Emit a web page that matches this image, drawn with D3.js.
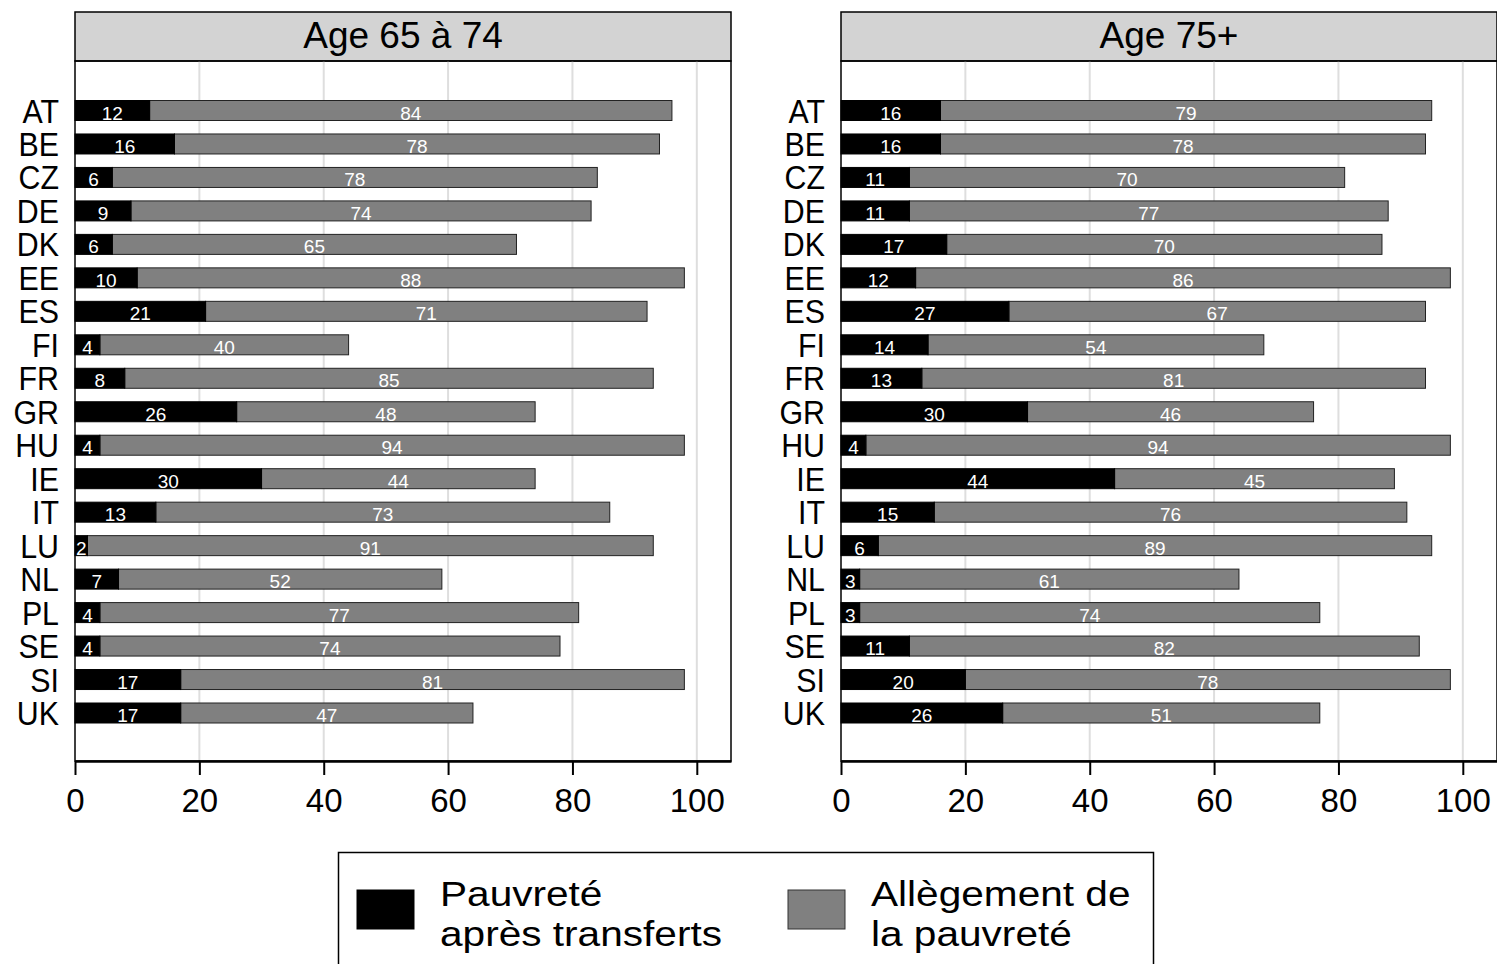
<html>
<head>
<script src="https://d3js.org/d3.v7.min.js"></script>
<style>
  body { margin: 0; background: #fff; }
  text { font-family: "Liberation Sans", Arial, Helvetica, sans-serif; }
</style>
</head>
<body>
<svg id="chart" width="1497" height="964"></svg>
<script>
// data
const countries = ["AT","BE","CZ","DE","DK","EE","ES","FI","FR","GR","HU","IE","IT","LU","NL","PL","SE","SI","UK"];
const panels = ["Age 65 à 74", "Age 75+"];
// poverty after transfers (black)
const pov6574 = [12,16,6,9,6,10,21,4,8,26,4,30,13,2,7,4,4,17,17];
const pov75   = [16,16,11,11,17,12,27,14,13,30,4,44,15,6,3,3,11,20,26];
// poverty relief (grey)
const rel6574 = [84,78,78,74,65,88,71,40,85,48,94,44,73,91,52,77,74,81,47];
const rel75   = [79,78,70,77,70,86,67,54,81,46,94,45,76,89,61,74,82,78,51];
const xTicks = [0,20,40,60,80,100];
const legendLabels = [["Pauvreté","après transferts"],["Allègement de","la pauvreté"]];
const colors = ["#000000","#808080"];

const svg = d3.select("#chart");

const panelLeft = [75, 841];
const panelW = 656;
const plotTop = 61, plotBottom = 761, stripTop = 12;

const series = [[pov6574, rel6574], [pov75, rel75]];

panels.forEach((title, p) => {
  const g = svg.append("g").attr("transform", `translate(${panelLeft[p]},0)`);
  const x = d3.scaleLinear().domain([0, 105.5]).range([0, panelW]);
  const y = d3.scalePoint().domain(countries).range([110.5, 713]);
  const bh = 20;

  // strip
  g.append("rect").attr("x", 0).attr("y", stripTop).attr("width", panelW).attr("height", plotTop - stripTop)
    .attr("fill", "#d3d3d3").attr("stroke", "#000").attr("stroke-width", 1.5);
  g.append("text").attr("x", panelW / 2).attr("y", 48).attr("text-anchor", "middle")
    .attr("font-size", 37).text(title);

  // grid
  g.selectAll("line.grid").data(xTicks.filter(d => d > 0)).join("line")
    .attr("class", "grid")
    .attr("x1", d => x(d)).attr("x2", d => x(d))
    .attr("y1", plotTop).attr("y2", plotBottom)
    .attr("stroke", "#dedede").attr("stroke-width", 2);

  const [pov, rel] = series[p];
  const rows = countries.map((c, i) => ({ c, a: pov[i], b: rel[i] }));

  // grey part then black part
  g.selectAll("rect.rel").data(rows).join("rect")
    .attr("class", "rel")
    .attr("x", d => x(d.a)).attr("width", d => x(d.a + d.b) - x(d.a))
    .attr("y", d => y(d.c) - bh / 2).attr("height", bh)
    .attr("fill", colors[1]).attr("stroke", "#222").attr("stroke-width", 1);
  g.selectAll("rect.pov").data(rows).join("rect")
    .attr("class", "pov")
    .attr("x", x(0)).attr("width", d => x(d.a) - x(0))
    .attr("y", d => y(d.c) - bh / 2).attr("height", bh)
    .attr("fill", colors[0]).attr("stroke", "#000").attr("stroke-width", 1);

  g.selectAll("text.lpov").data(rows).join("text")
    .attr("class", "lpov")
    .attr("x", d => x(d.a / 2)).attr("y", d => y(d.c) + 9)
    .attr("text-anchor", "middle")
    .attr("fill", "#fff").attr("font-size", 19).text(d => d.a);
  g.selectAll("text.lrel").data(rows).join("text")
    .attr("class", "lrel")
    .attr("x", d => x(d.a + d.b / 2)).attr("y", d => y(d.c) + 9)
    .attr("text-anchor", "middle")
    .attr("fill", "#fff").attr("font-size", 19).text(d => d.b);

  // panel border
  g.append("rect").attr("x", 0).attr("y", plotTop).attr("width", panelW).attr("height", plotBottom - plotTop)
    .attr("fill", "none").attr("stroke", "#000").attr("stroke-width", 1.5);

  // y labels (a bit condensed like the original)
  g.selectAll("text.cty").data(countries).join("text")
    .attr("class", "cty")
    .attr("transform", d => `translate(-16,${y(d) + 12}) scale(0.92,1)`)
    .attr("text-anchor", "end")
    .attr("font-size", 33).text(d => d);

  // x axis
  const ax = g.append("g").attr("transform", `translate(0,${plotBottom})`)
    .call(d3.axisBottom(x).tickValues(xTicks).tickSize(14).tickPadding(14).tickSizeOuter(0));
  ax.select(".domain").attr("stroke-width", 2.5);
  ax.selectAll(".tick line").attr("stroke-width", 2);
  ax.selectAll(".tick text").attr("font-size", 33).attr("fill", "#000")
    .style("font-family", "'Liberation Sans', Arial, sans-serif");
});

// legend
const lg = svg.append("g");
lg.append("rect").attr("x", 338.5).attr("y", 852.5).attr("width", 815).attr("height", 130)
  .attr("fill", "#fff").attr("stroke", "#000").attr("stroke-width", 1.5);
const legX = [357, 788];
legendLabels.forEach((lines, i) => {
  lg.append("rect").attr("x", legX[i]).attr("y", 890).attr("width", 57).attr("height", 39)
    .attr("fill", colors[i]).attr("stroke", i ? "#333" : "#000");
  lines.forEach((t, j) => {
    lg.append("text")
      .attr("transform", `translate(${legX[i] + 83},${906 + j * 40}) scale(1.16,1)`)
      .attr("font-size", 35).text(t);
  });
});
</script>
</body>
</html>
